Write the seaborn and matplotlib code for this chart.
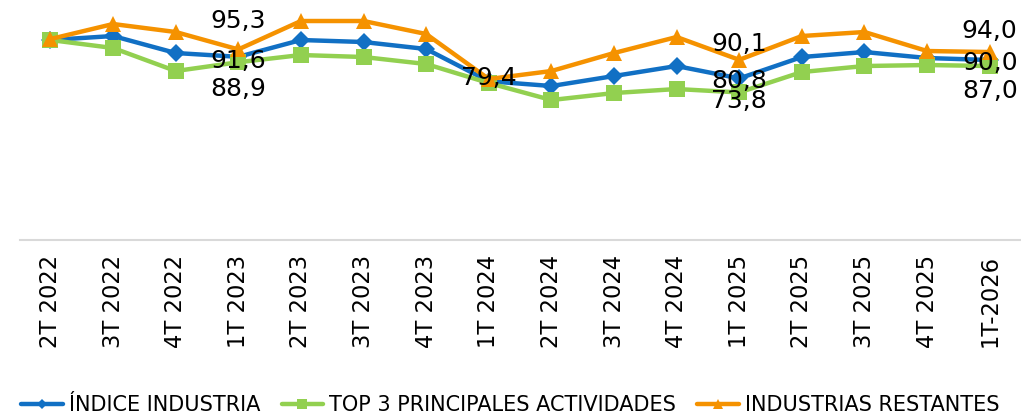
import pandas as pd
import matplotlib.pyplot as plt
import seaborn as sns

# -----------------------------------------------------------------------------
# Datos
# -----------------------------------------------------------------------------
periodos = ['2T 2022', '3T 2022', '4T 2022', '1T 2023', '2T 2023', '3T 2023',
            '4T 2023', '1T 2024', '2T 2024', '3T 2024', '4T 2024', '1T 2025',
            '2T 2025', '3T 2025', '4T 2025', '1T-2026']
indice_industria = [100.0, 102.0, 93.5, 91.6, 100.0, 99.0, 95.5, 79.4,
                    77.0, 82.0, 87.0, 80.8, 91.5, 94.0, 91.0, 90.0]
top3_actividades = [100.0, 96.0, 84.5, 88.9, 92.5, 91.5, 88.0, 78.5,
                    70.0, 73.5, 75.5, 73.8, 84.0, 87.0, 87.5, 87.0]
industrias_restantes = [100.5, 108.0, 104.0, 95.3, 109.5, 109.5, 103.0, 80.5,
                        84.5, 93.5, 101.5, 90.1, 102.0, 104.0, 94.5, 94.0]

df = pd.DataFrame({
    'periodo': periodos,
    'ÍNDICE INDUSTRIA': indice_industria,
    'TOP 3 PRINCIPALES ACTIVIDADES': top3_actividades,
    'INDUSTRIAS RESTANTES': industrias_restantes,
})
df['x'] = range(len(df))

# -----------------------------------------------------------------------------
# Estilo
# -----------------------------------------------------------------------------
sns.set_theme(style="white")
plt.rcParams['font.family'] = ['DejaVu Sans']

fig = plt.figure(figsize=(10.21, 4.19), dpi=100)
ax = fig.add_axes([0.02, 0.427, 0.98, 0.573])

series = [
    ('ÍNDICE INDUSTRIA', '#1170C4', 'D', 9),
    ('TOP 3 PRINCIPALES ACTIVIDADES', '#92D050', 's', 11),
    ('INDUSTRIAS RESTANTES', '#F59200', '^', 12),
]
for col, color, marker, ms in series:
    sns.lineplot(data=df, x='x', y=col, ax=ax, color=color, marker=marker,
                 markersize=ms, markeredgewidth=0, linewidth=3.2, label=col)

# etiquetas de datos (primer trimestre de cada año): desplazamiento vertical
def fmt(v):
    return f'{v:.1f}'.replace('.', ',')

lbl = dict(fontsize=18, color='black', ha='center', va='center')
desplaz = {3: (14.0, -2.0, -13.5), 11: (8.0, -1.3, -4.5), 15: (10.5, -1.5, -12.5)}
for i, (d_or, d_bl, d_gr) in desplaz.items():
    ax.text(i, industrias_restantes[i] + d_or, fmt(industrias_restantes[i]), **lbl)
    ax.text(i, indice_industria[i] + d_bl, fmt(indice_industria[i]), **lbl)
    ax.text(i, top3_actividades[i] + d_gr, fmt(top3_actividades[i]), **lbl)
ax.text(7, indice_industria[7] + 1.5, fmt(indice_industria[7]), **lbl)

ax.set_xlim(-0.48, 15.5)
ax.set_ylim(0, 120)
ax.set_xticks(df['x'])
ax.set_xticklabels(periodos, rotation=90, fontsize=16.3, color='black')
ax.tick_params(axis='x', length=0, pad=11)
ax.set_yticks([])
ax.set_xlabel('')
ax.set_ylabel('')
for s in ['top', 'right', 'left']:
    ax.spines[s].set_visible(False)
ax.spines['bottom'].set_color('#D9D9D9')
ax.spines['bottom'].set_linewidth(1.5)

handles, labels = ax.get_legend_handles_labels()
ax.get_legend().remove()
fig.legend(handles, labels, loc='lower center', bbox_to_anchor=(0.5, -0.035),
           ncol=3, frameon=False, handlelength=2.0,
           handletextpad=0.3, columnspacing=1.0, markerscale=0.6,
           fontsize=15, labelcolor='black')

fig.savefig('out.png', dpi=100)
